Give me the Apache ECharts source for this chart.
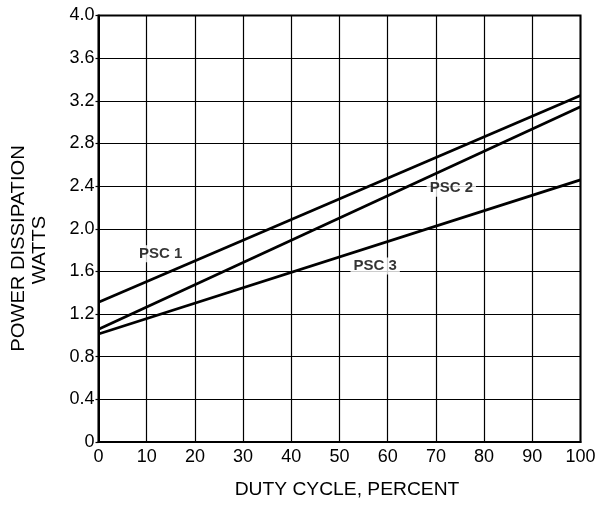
<!DOCTYPE html>
<html><head><meta charset="utf-8">
<script src="https://cdn.jsdelivr.net/npm/echarts@6/dist/echarts.min.js"></script>
<style>html,body{margin:0;padding:0;background:#fff}#c{width:595px;height:506px}</style>
</head><body><div id="c"></div>
<script>
var dutyCycle = [0, 100];
var psc1 = [1.31, 3.25];
var psc2 = [1.057, 3.145];
var psc3 = [1.013, 2.458];
var xTicks = ['0','10','20','30','40','50','60','70','80','90','100'];
var yTicks = ['0','0.4','0.8','1.2','1.6','2.0','2.4','2.8','3.2','3.6','4.0'];
var seriesLabels = [
  {name: 'PSC 1', x: 12.9, y: 1.765},
  {name: 'PSC 2', x: 73.2, y: 2.38},
  {name: 'PSC 3', x: 57.4, y: 1.65}
];
var font = '"Liberation Sans", Arial, Helvetica, sans-serif';
function pairs(ys){ return dutyCycle.map(function(x,i){return [x, ys[i]];}); }
var chart = echarts.init(document.getElementById('c'), null, {renderer:'canvas'});
var lineStyle = {color:'#000', width:2.8};
chart.setOption({
  animation:false,
  grid:{left:98.5, top:15.5, width:482, height:426.5, show:true, borderColor:'#000', borderWidth:2,
    backgroundColor:'transparent', containLabel:false, outerBoundsMode:'none'},
  graphic:[
    {type:'text', x:19, y:248.5, rotation:Math.PI/2, scaleX:1.12,
      style:{text:'POWER DISSIPATION', font:'18px ' + font, fill:'#000', textAlign:'center', textVerticalAlign:'middle'}},
    {type:'text', x:40.5, y:250, rotation:Math.PI/2, scaleX:1.12,
      style:{text:'WATTS', font:'18px ' + font, fill:'#000', textAlign:'center', textVerticalAlign:'middle'}},
    {type:'text', x:347, y:490, scaleX:1.07,
      style:{text:'DUTY CYCLE, PERCENT', font:'18px ' + font, fill:'#000', textAlign:'center', textVerticalAlign:'middle'}}
  ],
  xAxis:{type:'value', min:0, max:100, interval:10,
    axisLine:{show:true, lineStyle:{color:'#000', width:2}},
    axisTick:{show:false},
    splitLine:{show:true, lineStyle:{color:'#000', width:1.2}},
    axisLabel:{color:'#000', fontFamily:font, fontSize:18, margin:6,
      formatter:function(v){ return xTicks[Math.round(v/10)]; }}
  },
  yAxis:{type:'value', min:0, max:4, interval:0.4,
    axisLine:{show:true, lineStyle:{color:'#000', width:2}},
    axisTick:{show:true, length:3, lineStyle:{color:'#000', width:1.2}},
    splitLine:{show:true, lineStyle:{color:'#000', width:1.2}},
    axisLabel:{color:'#000', fontFamily:font, fontSize:18, margin:4,
      formatter:function(v){ return yTicks[Math.round(v/0.4)]; }}
  },
  series:[
    {type:'line', data:pairs(psc1), symbol:'none', lineStyle:lineStyle, z:3},
    {type:'line', data:pairs(psc2), symbol:'none', lineStyle:lineStyle, z:3},
    {type:'line', data:pairs(psc3), symbol:'none', lineStyle:lineStyle, z:3},
    {type:'scatter', symbolSize:0, z:5,
      data:seriesLabels.map(function(d){return {value:[d.x,d.y], name:d.name};}),
      label:{show:true, position:'inside', formatter:'{b}', color:'#000', fontFamily:font,
        fontWeight:'bold', fontSize:15, backgroundColor:'#fff', padding:[1,3,1,3]}
    }
  ]
});
</script></body></html>
